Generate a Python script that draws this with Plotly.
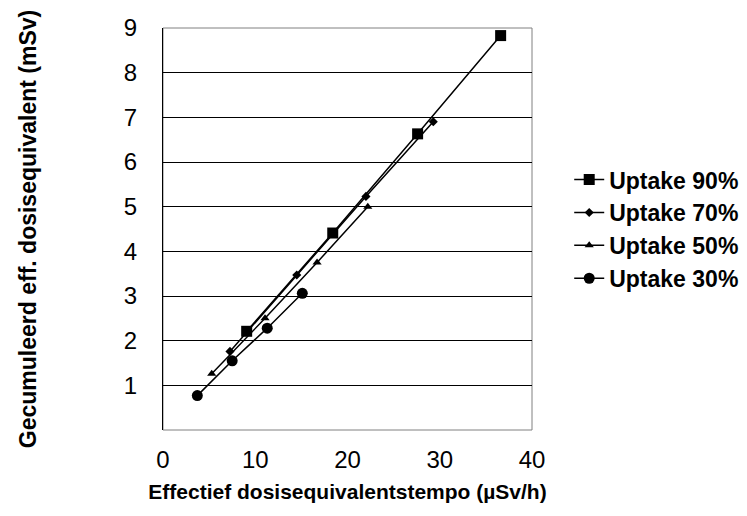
import plotly.graph_objects as go

x90 = [9.07, 18.4, 27.6, 36.6]
y90 = [2.21, 4.41, 6.63, 8.83]
x70 = [7.26, 14.5, 22.0, 29.3]
y70 = [1.76, 3.47, 5.23, 6.90]
x50 = [5.28, 11.06, 16.7, 22.2]
y50 = [1.26, 2.50, 3.75, 5.00]
x30 = [3.72, 7.5, 11.3, 15.1]
y30 = [0.77, 1.55, 2.28, 3.06]

names = ["Uptake 90%", "Uptake 70%", "Uptake 50%", "Uptake 30%"]
xticks = [0, 10, 20, 30, 40]
yticks = [1, 2, 3, 4, 5, 6, 7, 8, 9]

series = [
    (x90, y90, names[0], "square", 11),
    (x70, y70, names[1], "diamond", 7),
    (x50, y50, names[2], "triangle-up", 8),
    (x30, y30, names[3], "circle", 11),
]

fig = go.Figure()
for xs, ys, nm, sym, sz in series:
    fig.add_trace(go.Scatter(
        x=xs, y=ys, name=nm, mode="lines+markers",
        line=dict(color="black", width=1.5),
        marker=dict(symbol=sym, size=sz, color="black"),
    ))

fig.update_layout(
    width=747, height=516,
    margin=dict(l=163, r=215, t=28, b=86, autoexpand=False),
    paper_bgcolor="white", plot_bgcolor="white",
    font=dict(family="Liberation Sans, Arial", color="black"),
    showlegend=True,
    legend=dict(xref="container", yref="container", x=0.762, xanchor="left",
                y=0.556, yanchor="middle",
                font=dict(size=23, family="Liberation Sans, Arial", weight="bold"),
                tracegroupgap=0, itemwidth=30, bgcolor="rgba(0,0,0,0)"),
    xaxis=dict(range=[0, 40], tickvals=xticks, showgrid=False, zeroline=False,
               showline=False, ticks="", ticklabelstandoff=13,
               tickfont=dict(size=24),
               title=dict(text="Effectief dosisequivalentstempo (µSv/h)",
                          font=dict(size=21, weight="bold"), standoff=12)),
    yaxis=dict(range=[0, 9], tickvals=yticks, showgrid=True, gridcolor="black",
               gridwidth=1, zeroline=False, showline=True, linecolor="black",
               linewidth=1, ticks="", ticklabelstandoff=20,
               tickfont=dict(size=24),
               title=dict(text="Gecumuleerd eff. dosisequivalent (mSv)",
                          font=dict(size=23, weight="bold"), standoff=80)),
    shapes=[dict(type="rect", xref="paper", yref="paper", x0=0, x1=1, y0=0, y1=1,
                 line=dict(color="#808080", width=1), layer="below")],
)

fig.write_html("out.html")
